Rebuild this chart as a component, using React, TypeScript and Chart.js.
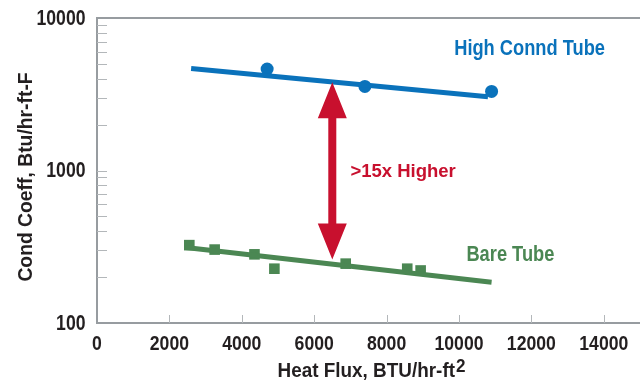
import React, { useEffect, useRef } from "react";
import { Chart, registerables } from "chart.js";

Chart.register(...registerables);

// ---- data ----
const xTickValues = [0, 2000, 4000, 6000, 8000, 10000, 12000, 14000];
const yTickValues = [100, 1000, 10000];
const yMinorTickValues = [200, 300, 400, 500, 600, 700, 800, 900, 2000, 3000, 4000, 5000, 6000, 7000, 8000, 9000];

const highX = [4700, 7400, 10900];
const highY = [4630, 3560, 3300];
const highFitX = [2600, 10800];
const highFitY = [4660, 3050];

const bareX = [2550, 3250, 4350, 4900, 6870, 8570, 8940];
const bareY = [324, 303, 282, 227, 245, 227, 221];
const bareFitX = [2450, 10900];
const bareFitY = [313, 185];

const arrowX = 6500;
const arrowTopY = 3790;
const arrowBottomY = 261;

const labelHigh = "High Connd Tube";
const labelBare = "Bare Tube";
const labelRatio = ">15x Higher";
const xTitle = "Heat Flux, BTU/hr-ft";
const xTitleSup = "2";
const yTitle = "Cond Coeff, Btu/hr-ft-F";

const BLUE = "#0a72bb";
const GREEN = "#4b8753";
const RED = "#c8102e";
const TEXT = "#231f20";
const AXIS = "#979ca0";
const TICK = "#b3b7ba";
const FONT = '"Liberation Sans", Arial, sans-serif';

const pts = (xs: number[], ys: number[]) => xs.map((x, i) => ({ x, y: ys[i] }));

function drawText(
  ctx: CanvasRenderingContext2D,
  text: string,
  x: number,
  y: number,
  size: number,
  sx: number,
  align: "left" | "center" | "right",
  color: string
) {
  ctx.save();
  ctx.font = `bold ${size}px ${FONT}`;
  ctx.fillStyle = color;
  ctx.textBaseline = "alphabetic";
  ctx.textAlign = "left";
  const w = ctx.measureText(text).width * sx;
  let left = x;
  if (align === "center") left = x - w / 2;
  if (align === "right") left = x - w;
  ctx.translate(left, y);
  ctx.scale(sx, 1);
  ctx.fillText(text, 0, 0);
  ctx.restore();
  return w;
}

const annotate = {
  id: "annotate",
  afterDatasetsDraw(chart: any) {
    const ctx = chart.ctx as CanvasRenderingContext2D;
    const xs = chart.scales.x;
    const ys = chart.scales.y;
    const area = chart.chartArea;
    ctx.save();

    // top frame line
    ctx.strokeStyle = AXIS;
    ctx.lineWidth = 2;
    ctx.beginPath();
    ctx.moveTo(area.left, area.top);
    ctx.lineTo(area.right, area.top);
    ctx.stroke();

    // inward ticks
    ctx.strokeStyle = TICK;
    ctx.lineWidth = 1;
    for (const v of [...yTickValues, ...yMinorTickValues]) {
      if (v === 100 || v === 10000) continue;
      const py = Math.round(ys.getPixelForValue(v)) + 0.5;
      ctx.beginPath();
      ctx.moveTo(area.left, py);
      ctx.lineTo(area.left + 10, py);
      ctx.stroke();
    }
    for (const v of xTickValues) {
      if (v === 0) continue;
      const px = Math.round(xs.getPixelForValue(v)) + 0.5;
      ctx.beginPath();
      ctx.moveTo(px, area.bottom);
      ctx.lineTo(px, area.bottom - 8);
      ctx.stroke();
    }

    // tick labels
    for (const v of yTickValues) {
      drawText(ctx, String(v), area.left - 11.5, ys.getPixelForValue(v) + 6.5, 21.5, 0.82, "right", TEXT);
    }
    for (const v of xTickValues) {
      drawText(ctx, String(v), xs.getPixelForValue(v), area.bottom + 26.5, 21, 0.84, "center", TEXT);
    }

    // double arrow
    const ax = xs.getPixelForValue(arrowX);
    const at = ys.getPixelForValue(arrowTopY);
    const ab = ys.getPixelForValue(arrowBottomY);
    const headH = 36, headW = 29, shaft = 8;
    ctx.fillStyle = RED;
    ctx.beginPath();
    ctx.moveTo(ax, at);
    ctx.lineTo(ax + headW / 2, at + headH);
    ctx.lineTo(ax + shaft / 2, at + headH);
    ctx.lineTo(ax + shaft / 2, ab - headH);
    ctx.lineTo(ax + headW / 2, ab - headH);
    ctx.lineTo(ax, ab);
    ctx.lineTo(ax - headW / 2, ab - headH);
    ctx.lineTo(ax - shaft / 2, ab - headH);
    ctx.lineTo(ax - shaft / 2, at + headH);
    ctx.lineTo(ax - headW / 2, at + headH);
    ctx.closePath();
    ctx.fill();

    // series labels
    drawText(ctx, labelHigh, xs.getPixelForValue(11950), ys.getPixelForValue(5740), 22, 0.83, "center", BLUE);
    drawText(ctx, labelBare, xs.getPixelForValue(11420), ys.getPixelForValue(254), 22, 0.83, "center", GREEN);
    drawText(ctx, labelRatio, xs.getPixelForValue(7000), ys.getPixelForValue(908), 18.5, 1.0, "left", RED);

    // x axis title
    ctx.font = `bold 21px ${FONT}`;
    const sxT = 0.9;
    const w1 = ctx.measureText(xTitle).width * sxT;
    ctx.font = `bold 19px ${FONT}`;
    const w2 = ctx.measureText(xTitleSup).width * sxT;
    const startX = 371 - (w1 + w2) / 2;
    drawText(ctx, xTitle, startX, 377, 21, sxT, "left", TEXT);
    drawText(ctx, xTitleSup, startX + w1 + 1, 372, 19, sxT, "left", TEXT);

    // y axis title
    ctx.save();
    ctx.translate(32, 177);
    ctx.rotate(-Math.PI / 2);
    drawText(ctx, yTitle, 0, 0, 21, 0.92, "center", TEXT);
    ctx.restore();

    ctx.restore();
  },
};

export default function App() {
  const ref = useRef<HTMLCanvasElement | null>(null);
  useEffect(() => {
    document.body.style.margin = "0";
    const canvas = ref.current!;
    const chart = new Chart(canvas, {
      type: "scatter",
      data: {
        datasets: [
          {
            data: pts(highFitX, highFitY),
            showLine: true,
            borderColor: BLUE,
            borderWidth: 5,
            pointRadius: 0,
            borderCapStyle: "butt",
          },
          {
            data: pts(bareFitX, bareFitY),
            showLine: true,
            borderColor: GREEN,
            borderWidth: 5,
            pointRadius: 0,
            borderCapStyle: "butt",
          },
          {
            data: pts(highX, highY),
            showLine: false,
            pointStyle: "circle",
            pointRadius: 6.5,
            backgroundColor: BLUE,
            borderColor: BLUE,
            borderWidth: 0,
          },
          {
            data: pts(bareX, bareY),
            showLine: false,
            pointStyle: "rect",
            pointRadius: 7.5,
            backgroundColor: GREEN,
            borderColor: GREEN,
            borderWidth: 0,
          },
        ],
      } as any,
      options: {
        animation: false,
        responsive: false,
        layout: { autoPadding: false, padding: { top: 18, right: 0, left: 0, bottom: 0 } },
        plugins: { legend: { display: false }, tooltip: { enabled: false } },
        scales: {
          x: {
            type: "linear",
            min: 0,
            max: 15000,
            grid: { display: false, drawTicks: false },
            border: { display: true, color: AXIS, width: 2 },
            afterBuildTicks: (s: any) => {
              s.ticks = xTickValues.map((v) => ({ value: v }));
            },
            afterFit: (s: any) => {
              s.height = 62;
              s.paddingLeft = 0;
              s.paddingRight = 0;
            },
            ticks: { display: false },
          },
          y: {
            type: "logarithmic",
            min: 100,
            max: 10000,
            grid: { display: false, drawTicks: false },
            border: { display: true, color: AXIS, width: 2 },
            afterBuildTicks: (s: any) => {
              s.ticks = yTickValues.map((v) => ({ value: v }));
            },
            afterFit: (s: any) => {
              s.width = 97;
              s.paddingTop = 0;
              s.paddingBottom = 0;
            },
            ticks: { display: false },
          },
        },
      } as any,
      plugins: [annotate],
    });
    return () => chart.destroy();
  }, []);
  return (
    <div style={{ width: 640, height: 385 }}>
      <canvas ref={ref} width={640} height={385} style={{ display: "block" }} />
    </div>
  );
}
